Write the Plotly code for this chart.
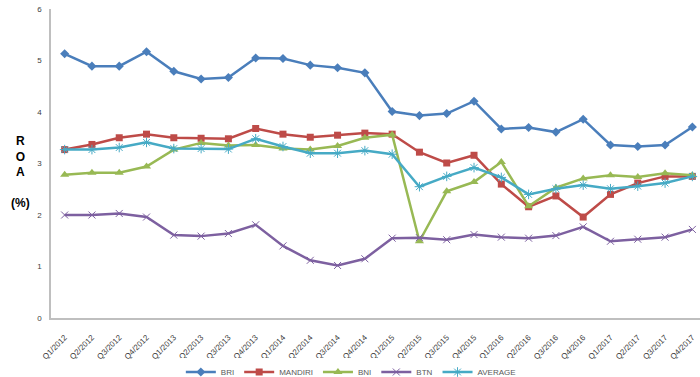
import plotly.graph_objects as go

quarters = ["Q1/2012","Q2/2012","Q3/2012","Q4/2012","Q1/2013","Q2/2013","Q3/2013","Q4/2013",
            "Q1/2014","Q2/2014","Q3/2014","Q4/2014","Q1/2015","Q2/2015","Q3/2015","Q4/2015",
            "Q1/2016","Q2/2016","Q3/2016","Q4/2016","Q1/2017","Q2/2017","Q3/2017","Q4/2017"]

bri = [5.13, 4.89, 4.89, 5.17, 4.79, 4.64, 4.67, 5.05, 5.04, 4.91, 4.86, 4.76,
       4.01, 3.93, 3.97, 4.21, 3.67, 3.70, 3.61, 3.86, 3.36, 3.33, 3.36, 3.71]
mandiri = [3.27, 3.37, 3.50, 3.57, 3.50, 3.49, 3.48, 3.68, 3.57, 3.51, 3.55, 3.59,
           3.57, 3.22, 3.01, 3.16, 2.60, 2.16, 2.37, 1.96, 2.40, 2.62, 2.75, 2.75]
bni = [2.78, 2.82, 2.82, 2.94, 3.27, 3.40, 3.35, 3.36, 3.29, 3.27, 3.34, 3.50,
       3.56, 1.49, 2.46, 2.64, 3.03, 2.17, 2.53, 2.71, 2.77, 2.74, 2.81, 2.77]
btn = [2.00, 2.00, 2.03, 1.96, 1.61, 1.59, 1.64, 1.81, 1.40, 1.12, 1.02, 1.15,
       1.55, 1.56, 1.52, 1.62, 1.57, 1.55, 1.60, 1.77, 1.49, 1.53, 1.57, 1.72]
average = [3.27, 3.27, 3.31, 3.41, 3.29, 3.29, 3.28, 3.48, 3.33, 3.20, 3.20, 3.25,
           3.18, 2.55, 2.75, 2.92, 2.73, 2.40, 2.51, 2.58, 2.51, 2.56, 2.62, 2.75]

series = [
    ("BRI", bri, "#4A7EBB", "diamond", 7),
    ("MANDIRI", mandiri, "#BE4B48", "square", 7),
    ("BNI", bni, "#98B954", "triangle-up", 8),
    ("BTN", btn, "#7D60A0", "x-thin-open", 7),
    ("AVERAGE", average, "#46AAC5", "asterisk-open", 8),
]

fig = go.Figure()
for name, vals, color, sym, size in series:
    marker = dict(symbol=sym, size=size, color=color)
    if sym.endswith("open"):
        marker["line"] = dict(color=color, width=1)
    fig.add_trace(go.Scatter(x=quarters, y=vals, name=name, mode="lines+markers",
                             line=dict(color=color, width=2.5), marker=marker))

fig.update_layout(
    width=700, height=377,
    margin=dict(l=51, r=0, t=9, b=59, autoexpand=False),
    plot_bgcolor="white", paper_bgcolor="white",
    font=dict(family="Liberation Sans, Arial, sans-serif", size=8, color="#404040"),
    showlegend=True,
    legend=dict(orientation="h", x=0.462, xanchor="center", yref="container",
                y=1 - 372 / 377, yanchor="middle",
                font=dict(size=8, color="#595959"), itemwidth=30, tracegroupgap=0),
    xaxis=dict(type="category", range=[-0.5, 23.28], showgrid=False, showline=True,
               linecolor="#BFBFBF", linewidth=1.5, tickangle=-45, ticks="",
               automargin=False, tickfont=dict(size=8, color="#404040"),
               ticklabelstandoff=10),
    yaxis=dict(range=[0, 6], showgrid=False, showline=True, linecolor="#BFBFBF",
               linewidth=1.5, dtick=1, ticks="", zeroline=False, automargin=False,
               tickfont=dict(size=8, color="#404040"), ticklabelstandoff=6),
    annotations=[dict(text="<b>R<br>O<br>A<br><br>(%)</b>", xref="paper", yref="paper",
                      x=(20 - 51) / 649, xanchor="center", y=(318 - 172) / 309, yanchor="middle",
                      showarrow=False, align="center",
                      font=dict(size=12, color="black", family="Liberation Sans, Arial, sans-serif"))],
)

fig.write_html("out.html", config={"displayModeBar": False},
               post_script="document.body.style.margin='0';document.body.style.overflow='hidden';")
